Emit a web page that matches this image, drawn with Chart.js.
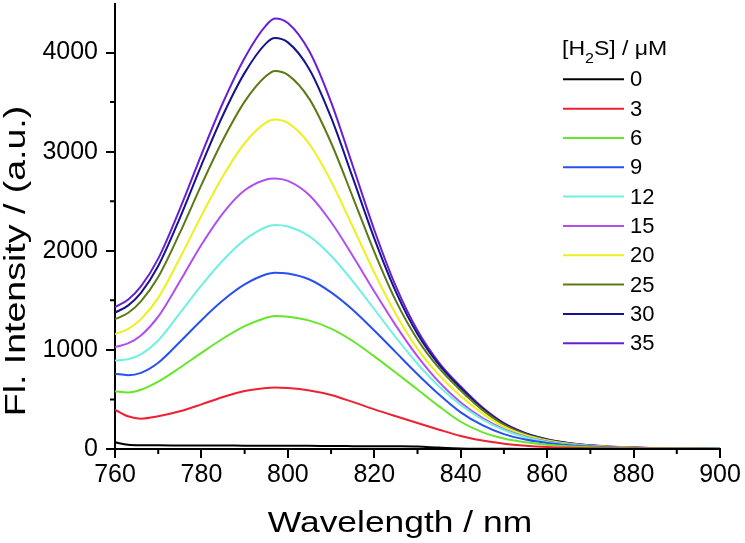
<!DOCTYPE html>
<html>
<head>
<meta charset="utf-8">
<title>H2S fluorescence spectra</title>
<script src="https://cdn.jsdelivr.net/npm/chart.js@4.4.0/dist/chart.umd.min.js"></script>
<style>
  html, body { margin: 0; padding: 0; background: #fff; }
  canvas { display: block; }
</style>
</head>
<body>
<canvas id="spectra" width="745" height="543"></canvas>
<script>
// wavelength grid (nm)
const wavelengths = [760, 763, 766, 770, 775, 780, 785, 790, 795, 797, 800, 805, 810, 815, 820, 825, 830, 835, 840, 845, 850, 855, 860, 865, 870, 880, 890, 900];

// [H2S] in uM
const concentrations = ['0', '3', '6', '9', '12', '15', '20', '25', '30', '35'];

// fluorescence intensity (a.u.) for each concentration
const fl0  = [67, 44, 38, 37, 36, 35, 35, 34, 34, 34, 33, 32, 30, 29, 28, 27, 24, 14, 6, 3, 2, 1, 1, 0, 0, 0, 0, 0];
const fl3  = [396, 330, 306, 330, 380, 450, 525, 585, 616, 621, 615, 590, 545, 475, 400, 330, 262, 195, 132, 85, 54, 34, 21, 13, 8, 4, 2, 1];
const fl6  = [584, 571, 598, 680, 820, 970, 1115, 1240, 1325, 1343, 1335, 1295, 1215, 1090, 935, 770, 600, 430, 275, 170, 105, 67, 43, 28, 18, 8, 4, 2];
const fl9  = [759, 745, 768, 870, 1080, 1300, 1500, 1660, 1763, 1779, 1770, 1710, 1580, 1405, 1195, 975, 755, 550, 370, 240, 150, 95, 60, 38, 24, 9, 4, 2];
const fl12 = [893, 905, 955, 1095, 1370, 1650, 1905, 2110, 2240, 2260, 2245, 2145, 1950, 1695, 1410, 1125, 860, 630, 445, 300, 192, 118, 72, 45, 28, 11, 4, 2];
const fl15 = [1028, 1065, 1145, 1335, 1690, 2060, 2380, 2610, 2720, 2730, 2705, 2560, 2290, 1950, 1590, 1245, 935, 675, 470, 315, 200, 124, 76, 47, 29, 11, 5, 2];
const fl20 = [1159, 1210, 1310, 1525, 1925, 2355, 2755, 3085, 3295, 3325, 3290, 3075, 2700, 2245, 1780, 1360, 1010, 745, 535, 360, 225, 138, 85, 52, 32, 12, 5, 2];
const fl25 = [1310, 1372, 1490, 1735, 2180, 2665, 3120, 3505, 3765, 3815, 3775, 3530, 3090, 2545, 1990, 1495, 1105, 815, 590, 395, 245, 150, 92, 56, 34, 13, 6, 3];
const fl30 = [1376, 1447, 1576, 1846, 2330, 2865, 3370, 3795, 4095, 4147, 4103, 3830, 3345, 2740, 2125, 1585, 1160, 848, 615, 410, 255, 157, 96, 59, 36, 14, 6, 3];
const fl35 = [1431, 1506, 1641, 1921, 2421, 2971, 3496, 3946, 4276, 4343, 4298, 4010, 3500, 2860, 2210, 1640, 1195, 870, 630, 420, 260, 160, 98, 60, 37, 15, 6, 3];

const series = [fl0, fl3, fl6, fl9, fl12, fl15, fl20, fl25, fl30, fl35];
const colors = ['#000000', '#f02030', '#66e62a', '#2850f0', '#6ff0e0', '#b04ff0', '#eef01c', '#5c7a14', '#14148c', '#6a1fd6'];

// axis ticks
const xTicks = [760, 780, 800, 820, 840, 860, 880, 900];
const xMinor = [770, 790, 810, 830, 850, 870, 890];
const yTicks = [0, 1000, 2000, 3000, 4000];
const yMinor = [500, 1500, 2500, 3500];

const xTitle = 'Wavelength / nm';
const yTitle = 'Fl. Intensity / (a.u.)';

const FONT = '"Liberation Sans", Arial, sans-serif';

// minor ticks, axis titles and the legend block
const decorations = {
  id: 'decorations',
  afterDraw(chart) {
    const ctx = chart.ctx;
    const xs = chart.scales.x;
    const ys = chart.scales.y;
    const area = chart.chartArea;

    ctx.save();
    ctx.strokeStyle = '#000';
    ctx.lineWidth = 2;
    ctx.beginPath();
    xMinor.forEach(v => {
      const px = xs.getPixelForValue(v);
      ctx.moveTo(px, area.bottom);
      ctx.lineTo(px, area.bottom + 5);
    });
    yMinor.forEach(v => {
      const py = ys.getPixelForValue(v);
      ctx.moveTo(area.left, py);
      ctx.lineTo(area.left - 5, py);
    });
    ctx.stroke();

    ctx.fillStyle = '#000';
    ctx.textAlign = 'center';
    ctx.textBaseline = 'alphabetic';
    ctx.font = '30px ' + FONT;

    ctx.save();
    ctx.translate(400, 532);
    ctx.scale(1.18, 1);
    ctx.fillText(xTitle, 0, 0);
    ctx.restore();

    ctx.save();
    ctx.translate(25, 261);
    ctx.rotate(-Math.PI / 2);
    ctx.scale(1.25, 1);
    ctx.fillText(yTitle, 0, 0);
    ctx.restore();

    // legend title
    ctx.save();
    ctx.translate(562, 55);
    ctx.scale(1.15, 1);
    ctx.textAlign = 'left';
    let cx = 0;
    ctx.font = '20px ' + FONT;
    ctx.fillText('[H', cx, 0);
    cx += ctx.measureText('[H').width;
    ctx.font = '14px ' + FONT;
    ctx.fillText('2', cx, 8);
    cx += ctx.measureText('2').width;
    ctx.font = '20px ' + FONT;
    ctx.fillText('S] / \u03bcM', cx, 0);
    ctx.restore();

    ctx.textAlign = 'left';
    ctx.textBaseline = 'middle';
    ctx.font = '22px ' + FONT;
    chart.data.datasets.forEach((ds, i) => {
      const y = 79.3 + i * 29.33;
      ctx.strokeStyle = ds.borderColor;
      ctx.lineWidth = 2;
      ctx.beginPath();
      ctx.moveTo(563, y);
      ctx.lineTo(624, y);
      ctx.stroke();
      ctx.fillText(ds.label, 630, y + 1);
    });
    ctx.restore();
  }
};

const datasets = series.map((vals, i) => ({
  label: concentrations[i],
  data: wavelengths.map((w, j) => ({ x: w, y: vals[j] })),
  borderColor: colors[i],
  borderWidth: 2,
  pointRadius: 0,
  fill: false,
  cubicInterpolationMode: 'monotone'
}));

const axisGrid = {
  display: true,
  drawOnChartArea: false,
  drawTicks: true,
  tickLength: 9,
  color: '#000',
  lineWidth: 2
};

const config = {
  type: 'line',
  data: { datasets: datasets },
  options: {
    responsive: false,
    animation: false,
    layout: { padding: { left: 0, right: 25, top: 4, bottom: 0 } },
    plugins: {
      legend: { display: false },
      tooltip: { enabled: false }
    },
    scales: {
      x: {
        type: 'linear',
        min: 760,
        max: 900,
        afterBuildTicks: s => { s.ticks = xTicks.map(v => ({ value: v })); },
        afterFit: s => { s.height = 94; s.paddingLeft = 0; s.paddingRight = 0; },
        grid: axisGrid,
        border: { display: true, color: '#000', width: 2 },
        ticks: { color: '#000', font: { family: FONT, size: 25 }, padding: 2, maxRotation: 0, autoSkip: false, callback: v => String(v) }
      },
      y: {
        type: 'linear',
        min: 0,
        max: 4490,
        afterBuildTicks: s => { s.ticks = yTicks.map(v => ({ value: v })); },
        afterFit: s => { s.width = 115; s.paddingTop = 0; s.paddingBottom = 0; },
        grid: axisGrid,
        border: { display: true, color: '#000', width: 2 },
        ticks: { color: '#000', font: { family: FONT, size: 25 }, padding: 8, autoSkip: false, callback: v => String(v) }
      }
    }
  },
  plugins: [decorations]
};

const chart = new Chart(document.getElementById('spectra').getContext('2d'), config);
</script>
</body>
</html>
